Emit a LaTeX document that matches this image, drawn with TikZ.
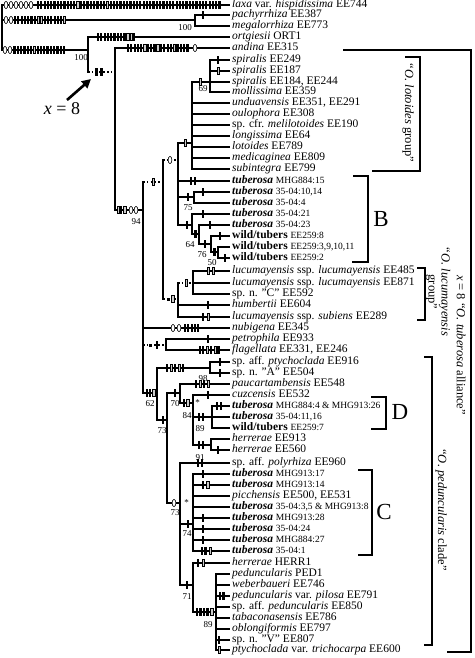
\documentclass[tikz,border=0pt]{standalone}
\usepackage{fontspec}
\setmainfont{Liberation Serif}
\usetikzlibrary{arrows.meta,shapes.geometric}
\newcommand\mkb[2]{\fill (#1-1.1,#2-3.6) rectangle (#1+1.1,#2+3.6);}
\newcommand\mkg[2]{\filldraw[fill=gray!40,line width=0.5pt] (#1-1.25,#2-3.3) rectangle (#1+1.25,#2+3.3);}
\newcommand\mko[2]{\filldraw[fill=white,line width=0.6pt] (#1,#2) ellipse [x radius=1.9, y radius=3.6];}
\newcommand\sm[1]{{\fontsize{9.5}{10}\selectfont #1}}
\newcommand\tbr{\textbf{\textit{tuberosa}}}
\newcommand\wtb{\textbf{wild/tubers}}
\newcommand\lf[2]{\draw[br] (#1 |- #2.west) -- ([xshift=-3pt]#2.west);}
\newcommand\ch[2]{\draw[br] (#1 |- #2) -- (#2);}
\newcommand\vt[3]{\draw[br] (#1 |- #2) -- (#1 |- #3);}
\begin{document}
\begin{tikzpicture}[x=1pt,y=-1pt,
  br/.style={line width=1.7pt,line cap=rect},
  dt/.style={line width=1.7pt,dash pattern=on 1.5pt off 2.3pt},
  bk/.style={line width=1.3pt},
  lab/.style={anchor=west,inner sep=0pt,text height=7.5pt,text depth=2.5pt,font=\fontsize{11.5}{12}\selectfont},
  bs/.style={inner sep=0pt,font=\fontsize{9}{9}\selectfont},
  big/.style={inner sep=0pt,font=\fontsize{23}{23}\selectfont},
  rot/.style={rotate=-90,inner sep=0pt,align=center,font=\fontsize{12.5}{13}\selectfont}]
\useasboundingbox (0,0) rectangle (474,658);
% ---------- leaf labels ----------
\node[lab] (l1) at (232,5) {\textit{laxa} var. \textit{hispidissima} EE744};
\node[lab] (l2) at (232,15) {\textit{pachyrrhiza} EE387};
\node[lab] (l3) at (232,26) {\textit{megalorrhiza} EE773};
\node[lab] (l4) at (232,37) {\textit{ortgiesii} ORT1};
\node[lab] (l5) at (232,48) {\textit{andina} EE315};
\node[lab] (l6) at (232,60) {\textit{spiralis} EE249};
\node[lab] (l7) at (232,71) {\textit{spiralis} EE187};
\node[lab] (l8) at (232,82) {\textit{spiralis} EE184, EE244};
\node[lab] (l9) at (232,92) {\textit{mollissima} EE359};
\node[lab] (l10) at (232,103) {\textit{unduavensis} EE351, EE291};
\node[lab] (l11) at (232,114) {\textit{oulophora} EE308};
\node[lab] (l12) at (232,125) {sp. cfr. \textit{melilotoides} EE190};
\node[lab] (l13) at (232,136) {\textit{longissima} EE64};
\node[lab] (l14) at (232,147) {\textit{lotoides} EE789};
\node[lab] (l15) at (232,158) {\textit{medicaginea} EE809};
\node[lab] (l16) at (232,169) {\textit{subintegra} EE799};
\node[lab] (l17) at (232,181) {\tbr\ \sm{MHG884:15}};
\node[lab] (l18) at (232,192) {\tbr\ \sm{35-04:10,14}};
\node[lab] (l19) at (232,203) {\tbr\ \sm{35-04:4}};
\node[lab] (l20) at (232,214) {\tbr\ \sm{35-04:21}};
\node[lab] (l21) at (232,225) {\tbr\ \sm{35-04:23}};
\node[lab] (l22) at (232,236) {\wtb\ \sm{EE259:8}};
\node[lab] (l23) at (232,247) {\wtb\ \sm{EE259:3,9,10,11}};
\node[lab] (l24) at (232,258) {\wtb\ \sm{EE259:2}};
\node[lab] (l25) at (232,271) {\textit{lucumayensis} ssp. \textit{lucumayensis} EE485};
\node[lab] (l26) at (232,283) {\textit{lucumayensis} ssp. \textit{lucumayensis} EE871};
\node[lab] (l27) at (232,294) {sp. n. "C" EE592};
\node[lab] (l28) at (232,305) {\textit{humbertii} EE604};
\node[lab] (l29) at (232,317) {\textit{lucumayensis} ssp. \textit{subiens} EE289};
\node[lab] (l30) at (232,328) {\textit{nubigena} EE345};
\node[lab] (l31) at (232,339) {\textit{petrophila} EE933};
\node[lab] (l32) at (232,350) {\textit{flagellata} EE331, EE246};
\node[lab] (l33) at (232,362) {sp. aff. \textit{ptychoclada} EE916};
\node[lab] (l34) at (232,373) {sp. n. "A" EE504};
\node[lab] (l35) at (232,384) {\textit{paucartambensis} EE548};
\node[lab] (l36) at (232,395) {\textit{cuzcensis} EE532};
\node[lab] (l37) at (232,406) {\tbr\ \sm{MHG884:4 \& MHG913:26}};
\node[lab] (l38) at (232,417) {\tbr\ \sm{35-04:11,16}};
\node[lab] (l39) at (232,428) {\wtb\ \sm{EE259:7}};
\node[lab] (l40) at (232,439) {\textit{herrerae} EE913};
\node[lab] (l41) at (232,450) {\textit{herrerae} EE560};
\node[lab] (l42) at (232,463) {sp. aff. \textit{polyrhiza} EE960};
\node[lab] (l43) at (232,474) {\tbr\ \sm{MHG913:17}};
\node[lab] (l44) at (232,485) {\tbr\ \sm{MHG913:14}};
\node[lab] (l45) at (232,496) {\textit{picchensis} EE500, EE531};
\node[lab] (l46) at (232,507) {\tbr\ \sm{35-04:3,5 \& MHG913:8}};
\node[lab] (l47) at (232,518) {\tbr\ \sm{MHG913:28}};
\node[lab] (l48) at (232,529) {\tbr\ \sm{35-04:24}};
\node[lab] (l49) at (232,540) {\tbr\ \sm{MHG884:27}};
\node[lab] (l50) at (232,551) {\tbr\ \sm{35-04:1}};
\node[lab] (l51) at (232,563) {\textit{herrerae} HERR1};
\node[lab] (l52) at (232,574) {\textit{peduncularis} PED1};
\node[lab] (l53) at (232,585) {\textit{weberbaueri} EE746};
\node[lab] (l54) at (232,596) {\textit{peduncularis} var. \textit{pilosa} EE791};
\node[lab] (l55) at (232,607) {sp. aff. \textit{peduncularis} EE850};
\node[lab] (l56) at (232,618) {\textit{tabaconasensis} EE786};
\node[lab] (l57) at (232,629) {\textit{oblongiformis} EE797};
\node[lab] (l58) at (232,640) {sp. n. "V" EE807};
\node[lab] (l59) at (232,650) {\textit{ptychoclada} var. \textit{trichocarpa} EE600};
% ---------- internal nodes (x of node, y of parent join) ----------
\coordinate (R) at (2,27);
\coordinate (P) at (195,20);
\coordinate (O) at (88,50);
\coordinate (A) at (115,72);
\coordinate (B94) at (143,210);
\coordinate (C1) at (163,182);
\coordinate (D1) at (178,160);
\coordinate (LO) at (192,143);
\coordinate (SP) at (210,82);
\coordinate (N75) at (194,197);
\coordinate (N1) at (192,225);
\coordinate (N64) at (199,234);
\coordinate (N76) at (211,244);
\coordinate (N50) at (218,252);
\coordinate (LU) at (178,299);
\coordinate (LU2) at (193,283);
\coordinate (PF) at (166,345);
\coordinate (N62) at (157,393);
\coordinate (PT) at (210,368);
\coordinate (N73a) at (167,420);
\coordinate (N70) at (180,393);
\coordinate (N84) at (193,403);
\coordinate (N89) at (212,417);
\coordinate (N91) at (211,445);
\coordinate (N73b) at (180,503);
\coordinate (N74) at (193,524);
\coordinate (N71) at (193,585);
\coordinate (NP) at (216,612);
% ---------- branches ----------
\vt{R}{l1.west}{O} \lf{R}{l1} \ch{R}{P} \ch{R}{O}
\vt{P}{l2.west}{l3.west} \lf{P}{l2} \lf{P}{l3}
\vt{O}{l4.west}{A} \lf{O}{l4} \draw[dt] (O |- A) -- (A);
\vt{A}{l5.west}{B94} \lf{A}{l5} \ch{A}{B94}
\vt{B94}{C1}{N62} \draw[dt] (B94 |- C1) -- (C1); \lf{B94}{l30} \draw[dt] (B94 |- PF) -- (PF); \ch{B94}{N62}
\vt{C1}{D1}{LU} \draw[dt] (C1 |- D1) -- (D1); \draw[dt] (C1 |- LU) -- (LU);
\vt{D1}{LO}{N1} \ch{D1}{LO} \lf{D1}{l17} \ch{D1}{N75} \ch{D1}{N1}
\vt{LO}{SP}{l16.west} \ch{LO}{SP} \foreach \k in {10,...,16}{\lf{LO}{l\k}}
\vt{SP}{l6.west}{l9.west} \foreach \k in {6,...,9}{\lf{SP}{l\k}}
\vt{N75}{l18.west}{l19.west} \lf{N75}{l18} \lf{N75}{l19}
\vt{N1}{l20.west}{N64} \lf{N1}{l20} \ch{N1}{N64}
\vt{N64}{l21.west}{N76} \lf{N64}{l21} \ch{N64}{N76}
\vt{N76}{l22.west}{N50} \lf{N76}{l22} \ch{N76}{N50}
\vt{N50}{l23.west}{l24.west} \lf{N50}{l23} \lf{N50}{l24}
\vt{LU}{LU2}{l29.west} \draw[dt] (LU |- LU2) -- (LU2); \lf{LU}{l28} \lf{LU}{l29}
\vt{LU2}{l25.west}{l27.west} \foreach \k in {25,26,27}{\lf{LU2}{l\k}}
\vt{PF}{l31.west}{l32.west} \lf{PF}{l31} \lf{PF}{l32}
\vt{N62}{PT}{N73a} \ch{N62}{PT} \ch{N62}{N73a}
\vt{PT}{l33.west}{l34.west} \lf{PT}{l33} \lf{PT}{l34}
\vt{N73a}{N70}{N73b} \ch{N73a}{N70} \ch{N73a}{N73b}
\vt{N70}{l35.west}{N84} \lf{N70}{l35} \ch{N70}{N84}
\vt{N84}{l36.west}{N91} \lf{N84}{l36} \ch{N84}{N89} \ch{N84}{N91}
\vt{N89}{l37.west}{l39.west} \foreach \k in {37,38,39}{\lf{N89}{l\k}}
\vt{N91}{l40.west}{l41.west} \lf{N91}{l40} \lf{N91}{l41}
\vt{N73b}{l42.west}{N71} \lf{N73b}{l42} \ch{N73b}{N74} \ch{N73b}{N71}
\vt{N74}{l43.west}{l50.west} \foreach \k in {43,...,50}{\lf{N74}{l\k}}
\vt{N71}{l51.west}{NP} \lf{N71}{l51} \ch{N71}{NP}
\vt{NP}{l52.west}{l59.west} \foreach \k in {52,...,59}{\lf{NP}{l\k}}
% ---------- character marks ----------
\foreach \i in {6,11,16,21,26,31}{\mko{\i}{5}}
\foreach \i in {0,...,55}{\mkb{38+3.3*\i}{5}}
\mkg{77.6}{5} \mkg{107.3}{5}
\mko{6}{20} \mko{11}{20}
\foreach \i in {0,...,14}{\mkb{15+3.3*\i}{20}}
\mkg{38}{20} \mkg{41.3}{20} \mkg{64}{20}
\mko{5}{50} \mko{10}{50}
\foreach \i in {0,...,15}{\mkb{14.5+3.3*\i}{50}}
\mkg{34.3}{50}
\mkb{203}{15}
\foreach \i in {0,...,11}{\mkb{98+3.3*\i}{37}}
\mkg{127.7}{37} \mkg{131}{37}
\fill (94.5,68) rectangle (97.5,76); \fill (99.5,68) rectangle (102.5,76);
\foreach \i in {0,...,18}{\mkb{128+3.3*\i}{48}}
\mkg{144.5}{48} \mkg{157.7}{48} \mkg{174.2}{48}
\mko{195}{48}
\mkg{118}{210} \mkb{121.3}{210} \mkg{124.6}{210} \mko{131}{210} \mko{136}{210}
\mkg{153}{182}
\mko{170}{160}
\mkg{185}{143}
\mkg{200}{82}
\mkb{218}{60} \mkg{218}{71}
\mkb{191}{181} \mkb{195}{181}
\mkb{188}{197} \mkb{203}{192}
\mkb{187}{225} \mkb{203}{214}
\mkb{195.5}{234} \mkb{210}{225}
\mkb{205}{244} \mkb{220}{236}
\mkb{214.5}{252} \mkb{225}{258}
\fill (166.5,297.5) rectangle (169.5,300.5); \mkg{172.5}{299}
\mkg{186}{283}
\mkg{208}{271} \mkg{213}{271}
\mkb{208}{305}
\mkb{203}{317} \mkg{208}{317}
\mko{173}{328} \mko{179}{328}
\foreach \i in {0,...,4}{\mkb{185+3.3*\i}{328}}
\fill (148.5,343.5) rectangle (151.5,346.5); \mkb{157}{345}
\mkb{208}{339}
\mkb{200}{350} \mkb{203.3}{350} \mkg{207}{350} \mkb{211}{350} \mkg{215}{350} \mkb{218.5}{350}
\mkb{147}{393} \mkb{150.3}{393} \mkg{153.6}{393}
\mkb{167}{368} \mkg{171}{368} \mkb{175}{368} \mkg{179}{368} \mkb{183}{368}
\mkb{220}{362} \mkb{220}{373}
\mkb{163}{420}
\mkb{175}{393}
\mkb{196}{384} \mkg{200}{384} \mkb{204}{384} \mkg{208}{384}
\mkb{184}{403} \mkg{187.5}{403}
\mkb{208}{395}
\mkb{199}{417} \mkb{203}{417}
\mkb{217}{406} \mkb{221}{406}
\mkb{199}{445} \mkb{203}{445}
\mkb{218}{450}
\mko{174}{503}
\mkb{198}{463} \mkb{202}{463}
\mkb{188}{524}
\mkb{203}{474}
\mkb{203}{485} \mkg{207.5}{485}
\mkb{203}{518} \mkb{203}{529} \mkb{203}{540}
\mkb{202}{551} \mkb{205.5}{551} \mkg{210}{551}
\mkb{187}{585}
\mkb{198}{563} \mkg{203}{563}
\mkb{197}{612} \mkb{200.5}{612} \mkb{204}{612} \mkb{207.5}{612} \mkg{211.5}{612}
\mkb{220}{596} \mkb{223.5}{596}
\mkb{219}{640} \mkg{219}{650}
% ---------- support values ----------
\node[bs] (s1) at (185,28) {100};
\node[bs] (s2) at (81,58) {100};
\node[bs] (s3) at (136,222) {94};
\node[bs] (s4) at (203,89) {69};
\node[bs] (s5) at (188,208) {75};
\node[bs] (s6) at (190,245) {64};
\node[bs] (s7) at (202,255) {76};
\node[bs] (s8) at (212,263) {50};
\node[bs] (s9) at (150,404) {62};
\node[bs] (s10) at (203,379) {98};
\node[bs] (s11) at (162,431) {73};
\node[bs] (s12) at (175,404) {70};
\node[bs] (s13) at (187,416) {84};
\node[bs] (s14) at (200,429) {89};
\node[bs] (s15) at (200,458) {91};
\node[bs] (s16) at (175,513) {73};
\node[bs] (s17) at (187,534) {74};
\node[bs] (s18) at (187,597) {71};
\node[bs] (s19) at (208,625) {89};
\node[bs] (a1) at (197.5,403) {*};
\node[bs] (a2) at (186.5,503) {*};
% ---------- x = 8 arrow ----------
\node[inner sep=0pt,font=\fontsize{18}{18}\selectfont] (xeq) at (62,109) {\textit{x} = 8};
\coordinate (arrtail) at (67,100);
\coordinate (arrtip) at (91,79);
\draw[line width=2.6pt,-{Triangle[length=9pt,width=9pt]}] (arrtail) -- (arrtip);
% ---------- brackets ----------
\draw[bk] (343,50) -- (471,50) -- (471,652) -- (447,652);
\draw[bk] (405,57) -- (420,57) -- (420,171) -- (372,171);
\node[rot] (tlot) at (408,113) {``\textit{O. lotoides} group''};
\draw[bk] (353,176) -- (368,176) -- (368,262) -- (352,262);
\node[big] (bB) at (381,219) {B};
\draw[bk] (417,268) -- (425,268) -- (425,320) -- (417,320);
\node[rot] (tluc) at (438,292) {``\textit{O. lucumayensis}\\group''};
\draw[bk] (371,397) -- (386,397) -- (386,429) -- (371,429);
\node[big] (bD) at (400,412) {D};
\draw[bk] (358,470) -- (372,470) -- (372,555) -- (358,555);
\node[big] (bC) at (384,512) {C};
\draw[bk] (424,357) -- (432,357) -- (432,645) -- (424,645);
\node[rot] (tped) at (441,510) {``\textit{O. peduncularis} clade''};
\node[rot] (tall) at (461,345) {\textit{x} = 8 ``\textit{O. tuberosa} alliance''};
\end{tikzpicture}
\end{document}
